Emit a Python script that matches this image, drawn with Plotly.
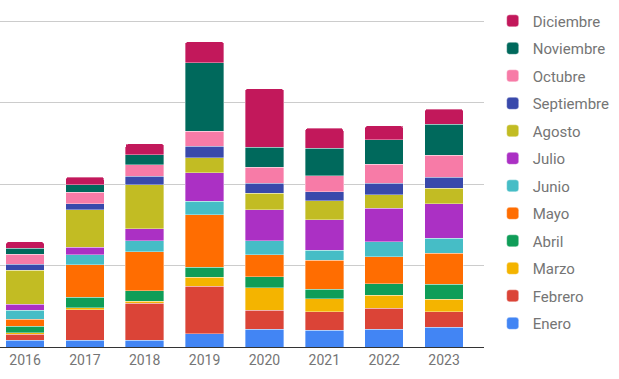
import plotly.graph_objects as go

years = ["2016", "2017", "2018", "2019", "2020", "2021", "2022", "2023"]

enero      = [8.1, 8.2, 8.2, 16.3, 22.1, 20.5, 21.7, 24.5]
febrero    = [7.4, 37.6, 45.7, 58.5, 22.9, 22.9, 25.7, 18.8]
marzo      = [2.1, 2.5, 2.1, 10.7, 27.8, 15.6, 15.9, 15.6]
abril      = [7.7, 13.1, 13.1, 12.3, 13.5, 11.9, 14.7, 18.0]
mayo       = [9.1, 39.6, 47.8, 64.6, 27.3, 35.5, 32.7, 38.4]
junio      = [11.0, 12.6, 13.5, 16.8, 17.2, 12.3, 18.4, 18.4]
julio      = [6.9, 8.9, 15.1, 35.2, 38.0, 37.6, 41.3, 42.5]
agosto     = [41.7, 46.2, 53.9, 18.4, 20.0, 23.7, 16.8, 18.8]
septiembre = [7.8, 7.4, 10.2, 13.8, 12.3, 10.7, 13.8, 13.8]
octubre    = [12.3, 14.3, 14.3, 18.4, 19.6, 20.0, 23.3, 26.6]
noviembre  = [7.4, 8.9, 12.3, 84.2, 24.5, 33.5, 30.3, 38.4]
diciembre  = [7.7, 9.4, 13.5, 26.1, 72.3, 24.5, 17.2, 18.4]

series = [
    ("Enero", enero, "#4285F4"),
    ("Febrero", febrero, "#DB4437"),
    ("Marzo", marzo, "#F4B400"),
    ("Abril", abril, "#0F9D58"),
    ("Mayo", mayo, "#FF6D01"),
    ("Junio", junio, "#46BDC6"),
    ("Julio", julio, "#AB30C4"),
    ("Agosto", agosto, "#C2BC23"),
    ("Septiembre", septiembre, "#3949AB"),
    ("Octubre", octubre, "#F77BA7"),
    ("Noviembre", noviembre, "#00695C"),
    ("Diciembre", diciembre, "#C2185B"),
]

fig = go.Figure()
n = len(series)
for i, (name, vals, color) in enumerate(series):
    fig.add_trace(go.Bar(
        x=years, y=vals, name=name, legendgroup=name, legendrank=n - i,
        marker=dict(color=color, line=dict(color="rgba(255,255,255,0.6)", width=0.6)),
        width=0.643,
    ))

fig.update_layout(
    barmode="stack",
    barcornerradius=3,
    width=619, height=379,
    margin=dict(l=0, r=135, t=18.55, b=31.5, autoexpand=False),
    plot_bgcolor="white", paper_bgcolor="white",
    font=dict(family="Roboto, Arial, sans-serif", color="#757575"),
    xaxis=dict(
        type="category", range=[-0.418, 7.668],
        showgrid=False, showline=True, linecolor="#333333", linewidth=1,
        ticks="", tickfont=dict(size=14, color="#757575"),
    ),
    yaxis=dict(
        range=[0, 403], tickvals=[100, 200, 300, 400], showticklabels=False,
        gridcolor="#cccccc", gridwidth=1, zeroline=False,
    ),
    legend=dict(
        traceorder="grouped", tracegroupgap=5,
        x=1.018, xanchor="left", y=1.044, yanchor="top",
        font=dict(size=15, color="#757575"),
        bgcolor="rgba(0,0,0,0)", maxheight=379,
    ),
    showlegend=True,
)

fig.write_html("out.html", config={"displayModeBar": False},
               post_script="document.body.style.margin='0';")
